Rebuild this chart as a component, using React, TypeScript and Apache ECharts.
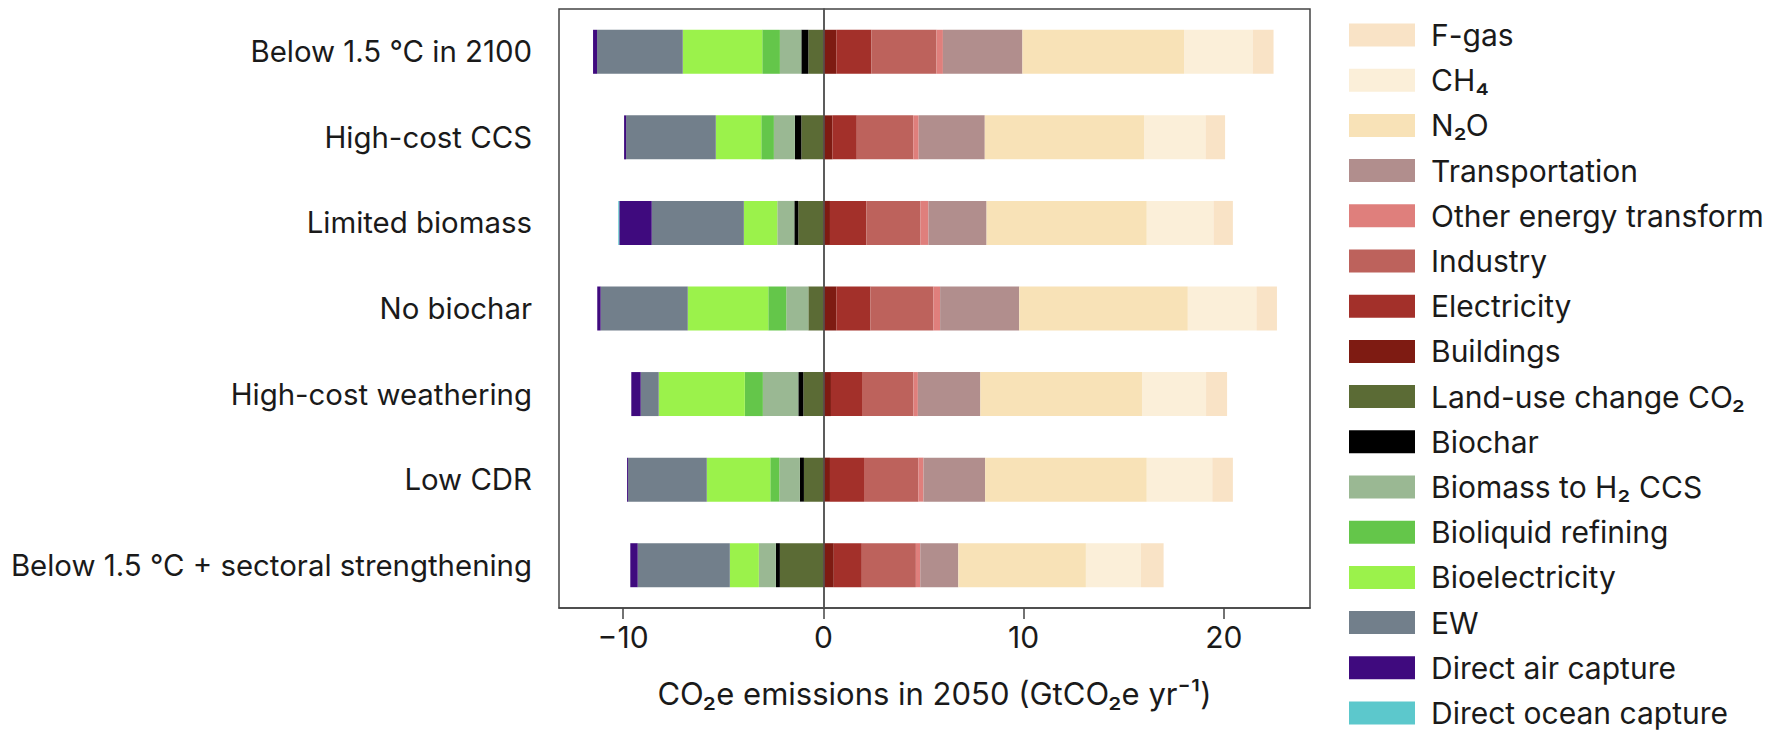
import React, { useEffect, useRef } from "react";
import * as echarts from "echarts";

const categories = [
  "Below 1.5 °C in 2100",
  "High-cost CCS",
  "Limited biomass",
  "No biochar",
  "High-cost weathering",
  "Low CDR",
  "Below 1.5 °C + sectoral strengthening",
];

const xTicks = [-10, 0, 10, 20];

// negative side (from zero outward)
const landUse = [-0.75, -1.1, -1.25, -0.75, -1.0, -0.97, -2.17];
const biochar = [-0.35, -0.32, -0.2, 0, -0.25, -0.2, -0.2];
const biomassH2 = [-1.07, -1.05, -0.85, -1.1, -1.77, -1.03, -0.85];
const bioliquid = [-0.88, -0.63, 0, -0.9, -0.9, -0.45, 0];
const bioelectricity = [-3.97, -2.27, -1.67, -4.02, -4.3, -3.17, -1.45];
const ew = [-4.28, -4.48, -4.6, -4.35, -0.9, -3.93, -4.6];
const dac = [-0.2, -0.1, -1.62, -0.17, -0.47, -0.05, -0.37];
const doc = [0, 0, -0.05, 0, 0, 0, 0];
// positive side (from zero outward)
const buildings = [0.65, 0.45, 0.33, 0.65, 0.38, 0.33, 0.52];
const electricity = [1.75, 1.22, 1.82, 1.7, 1.55, 1.7, 1.4];
const industry = [3.25, 2.82, 2.7, 3.15, 2.57, 2.72, 2.7];
const otherEnergy = [0.32, 0.27, 0.4, 0.33, 0.22, 0.25, 0.22];
const transportation = [3.97, 3.3, 2.9, 3.95, 3.12, 3.08, 1.9];
const n2o = [8.07, 7.95, 8.0, 8.42, 8.07, 8.07, 6.37];
const ch4 = [3.42, 3.07, 3.33, 3.42, 3.2, 3.27, 2.75];
const fgas = [1.05, 0.98, 0.97, 1.03, 1.05, 1.03, 1.13];

const seriesDefs = [
  { name: "Land-use change CO₂", data: landUse, color: "#5B6B35" },
  { name: "Biochar", data: biochar, color: "#000000" },
  { name: "Biomass to H₂ CCS", data: biomassH2, color: "#9AB893" },
  { name: "Bioliquid refining", data: bioliquid, color: "#64C64A" },
  { name: "Bioelectricity", data: bioelectricity, color: "#9BF24B" },
  { name: "EW", data: ew, color: "#727F8B" },
  { name: "Direct air capture", data: dac, color: "#3F0A7E" },
  { name: "Direct ocean capture", data: doc, color: "#5CC8CC" },
  { name: "Buildings", data: buildings, color: "#7E1B12" },
  { name: "Electricity", data: electricity, color: "#A3302A" },
  { name: "Industry", data: industry, color: "#BD625C" },
  { name: "Other energy transform", data: otherEnergy, color: "#DF7F7C" },
  { name: "Transportation", data: transportation, color: "#B18E8D" },
  { name: "N₂O", data: n2o, color: "#F8E2B7" },
  { name: "CH₄", data: ch4, color: "#FBEFD9" },
  { name: "F-gas", data: fgas, color: "#F9E3C6" },
];

const legendOrder = [
  "F-gas",
  "CH₄",
  "N₂O",
  "Transportation",
  "Other energy transform",
  "Industry",
  "Electricity",
  "Buildings",
  "Land-use change CO₂",
  "Biochar",
  "Biomass to H₂ CCS",
  "Bioliquid refining",
  "Bioelectricity",
  "EW",
  "Direct air capture",
  "Direct ocean capture",
];

const FONT = "Inter";

export default function App() {
  const ref = useRef<HTMLDivElement>(null);
  useEffect(() => {
    if (!ref.current) return;
    const chart = echarts.init(ref.current, null, { renderer: "svg" });
    const series: any[] = seriesDefs.map((s, i) => ({
      type: "bar",
      name: s.name,
      stack: "total",
      data: s.data,
      barWidth: 44,
      itemStyle: { color: s.color },
      emphasis: { disabled: true },
      ...(i === 0
        ? {
            markLine: {
              silent: true,
              symbol: ["none", "none"],
              label: { show: false },
              lineStyle: { color: "#555", width: 1.5, type: "solid" },
              data: [{ xAxis: 0 }],
              z: 10,
            },
          }
        : {}),
    }));
    chart.setOption({
      animation: false,
      textStyle: { fontFamily: FONT },
      grid: {
        left: 559,
        top: 9,
        right: 469,
        bottom: 122,
        show: true,
        borderColor: "#444",
        borderWidth: 1.5,
        backgroundColor: "transparent",
      },
      legend: {
        orient: "vertical",
        left: 1349,
        top: 20,
        height: 760,
        padding: 0,
        itemWidth: 66,
        itemHeight: 23,
        itemGap: 15.2,
        icon: "rect",
        selectedMode: false,
        data: legendOrder,
        textStyle: {
          fontFamily: FONT,
          fontSize: 30,
          color: "#1a1a1a",
          padding: [0, 0, 0, 11],
        },
      },
      xAxis: {
        type: "value",
        min: -13.2,
        max: 24.3,
        splitLine: { show: false },
        axisLine: { show: true, lineStyle: { color: "#444", width: 1.5 } },
        axisTick: {
          show: true,
          customValues: xTicks,
          length: 11,
          lineStyle: { color: "#444", width: 1.5 },
        },
        axisLabel: {
          customValues: xTicks,
          margin: 14,
          fontFamily: FONT,
          fontSize: 30,
          color: "#1a1a1a",
          formatter: (v: number) => (v < 0 ? "−" + Math.abs(v) : String(v)),
        },
        name: "CO₂e emissions in 2050 (GtCO₂e yr⁻¹)",
        nameLocation: "middle",
        nameGap: 70,
        nameTextStyle: { fontFamily: FONT, fontSize: 31, color: "#1a1a1a" },
      },
      yAxis: {
        type: "category",
        data: categories,
        inverse: true,
        axisLine: { show: true, lineStyle: { color: "#444", width: 1.5 } },
        axisTick: {
          show: true,
          alignWithLabel: true,
          length: 11,
          lineStyle: { color: "#444", width: 1.5 },
        },
        axisLabel: {
          margin: 27,
          fontFamily: FONT,
          fontSize: 29.4,
          color: "#1a1a1a",
        },
        splitLine: { show: false },
      },
      series,
    });
    return () => chart.dispose();
  }, []);
  return (
    <div
      ref={ref}
      style={{ position: "absolute", left: 0, top: 0, width: 1779, height: 730, background: "#fff" }}
    />
  );
}
